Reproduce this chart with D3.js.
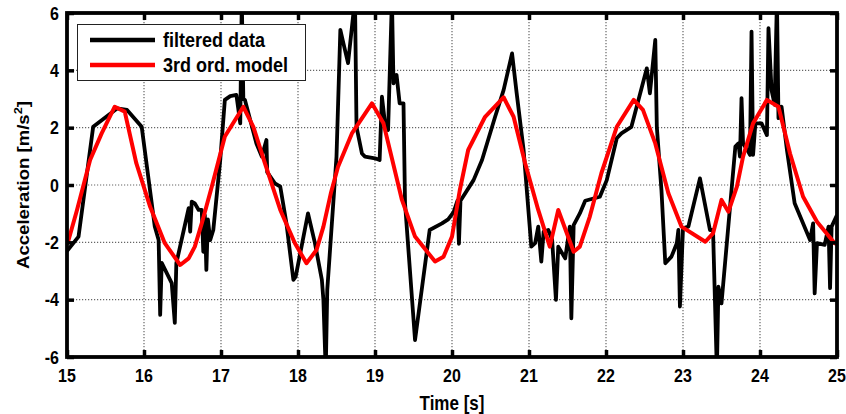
<!DOCTYPE html>
<html>
<head>
<meta charset="utf-8">
<script src="https://cdn.jsdelivr.net/npm/d3@7"></script>
<style>
  html, body { margin: 0; padding: 0; background: #fff; }
  svg { display: block; }
  text { font-family: "Liberation Sans", Arial, sans-serif; font-weight: bold; fill: #000; }
</style>
</head>
<body>
<svg id="chart" width="846" height="414"></svg>
<script>
// Measured acceleration after filtering: time [s] and acceleration [m/s^2]
const dataTime = [
  15.00, 15.15, 15.34, 15.65, 15.78, 15.97, 16.14, 16.19, 16.21, 16.23, 16.36, 16.40, 16.42,
  16.58, 16.60, 16.62, 16.66, 16.71, 16.75, 16.77, 16.79, 16.81, 16.83, 16.86, 16.90, 16.99,
  17.05, 17.12, 17.20, 17.25, 17.27, 17.29, 17.31, 17.46, 17.53, 17.59, 17.60, 17.70, 17.77,
  17.85, 17.94, 17.97, 18.13, 18.22, 18.31, 18.33, 18.36, 18.38, 18.50, 18.55, 18.59, 18.65,
  18.74, 18.76, 18.83, 18.87, 19.00, 19.06, 19.09, 19.13, 19.17, 19.22, 19.24, 19.28, 19.32,
  19.37, 19.39, 19.52, 19.71, 19.87, 19.95, 20.02, 20.07, 20.09, 20.11, 20.28, 20.39, 20.56,
  20.67, 20.78, 20.84, 20.93, 21.03, 21.08, 21.12, 21.16, 21.19, 21.25, 21.30, 21.35, 21.38,
  21.47, 21.53, 21.55, 21.58, 21.66, 21.73, 21.92, 22.01, 22.14, 22.20, 22.33, 22.53, 22.57,
  22.64, 22.66, 22.72, 22.77, 22.85, 22.92, 22.94, 22.96, 23.00, 23.07, 23.22, 23.35, 23.39,
  23.44, 23.46, 23.50, 23.68, 23.72, 23.74, 23.76, 23.78, 23.84, 23.87, 23.89, 23.91, 23.94,
  24.02, 24.09, 24.11, 24.15, 24.19, 24.22, 24.24, 24.28, 24.35, 24.45, 24.65, 24.69, 24.71,
  24.74, 24.84, 24.89, 24.91, 24.93, 25.00
];
const dataAccel = [
  -2.30, -1.80, 2.03, 2.67, 2.62, 2.03, -1.45, -1.92, -4.53, -2.72, -3.42, -4.81, -2.73,
  -0.81, -1.63, -0.58, -0.64, -0.87, -0.87, -2.33, -1.05, -2.96, -1.20, -1.92, -1.57, 0.87,
  2.97, 3.10, 3.14, 2.15, 6.50, 3.00, 2.97, 1.45, 0.99, 1.57, 0.45, 0.06, -0.06,
  -1.34, -3.31, -3.20, -0.99, -2.03, -3.31, -4.01, -6.50, -3.66, 0.99, 5.41, 4.94, 4.25,
  6.50, 2.03, 1.10, 0.99, 0.93, 0.87, 3.08, 2.15, 1.92, 6.50, 3.55, 3.84, 2.85,
  2.85, -0.64, -5.41, -1.57, -1.34, -1.20, -0.95, -0.55, -2.05, -0.55, 0.17, 0.87, 2.38,
  3.31, 4.59, 3.20, 1.22, -2.15, -2.03, -1.45, -2.67, -1.63, -1.57, -1.90, -4.01, -2.15,
  -2.56, -1.45, -4.65, -1.40, -0.99, -0.55, -0.41, 0.17, 1.63, 1.80, 2.03, 4.07, 3.20,
  5.06, 2.03, -0.17, -2.73, -2.50, -2.03, -1.57, -4.24, -1.51, -1.45, 0.23, -1.57, -1.57,
  -6.50, -3.55, -4.13, 1.34, 1.45, 0.99, 3.03, 1.45, 1.20, 1.05, 5.35, 1.05, 2.15,
  2.15, 1.74, 5.47, 3.31, 2.80, 6.50, 2.33, 2.73, 1.22, -0.64, -1.92, -1.34, -3.78,
  -2.03, -2.09, -1.45, -3.60, -1.45, -1.05
];

// Third-order model response
const modelTime = [
  15.00, 15.02, 15.13, 15.30, 15.45, 15.62, 15.75, 15.90, 16.08, 16.27, 16.47, 16.58, 16.66,
  16.75, 16.88, 17.05, 17.29, 17.42, 17.57, 17.77, 17.96, 18.11, 18.24, 18.33, 18.43, 18.52,
  18.70, 18.96, 19.11, 19.35, 19.52, 19.78, 19.89, 20.00, 20.10, 20.21, 20.43, 20.67, 20.80,
  20.95, 21.12, 21.27, 21.38, 21.58, 21.66, 21.79, 21.94, 22.14, 22.36, 22.48, 22.64, 22.81,
  22.98, 23.29, 23.39, 23.50, 23.59, 23.70, 23.78, 23.91, 24.09, 24.24, 24.39, 24.56, 24.74,
  24.97, 25.00
];
const modelAccel = [
  -2.05, -1.92, -0.87, 0.87, 1.80, 2.73, 2.56, 0.76, -0.76, -2.03, -2.79, -2.56, -2.15,
  -1.34, -0.06, 1.69, 2.73, 2.03, 0.76, -0.87, -2.03, -2.73, -2.27, -1.45, -0.25, 0.64,
  1.80, 2.85, 2.15, -0.52, -1.80, -2.67, -2.50, -1.80, -0.20, 1.22, 2.38, 3.06, 2.38,
  0.76, -0.87, -2.15, -0.87, -2.33, -2.15, -1.10, 0.41, 2.03, 2.97, 2.62, 1.45, -0.29,
  -1.45, -1.98, -1.69, -0.52, -0.93, -0.06, 0.99, 2.15, 2.97, 2.73, 1.10, -0.41, -1.28,
  -2.03, -2.05
];

const xTicks = [15, 16, 17, 18, 19, 20, 21, 22, 23, 24, 25];
const yTicks = [-6, -4, -2, 0, 2, 4, 6];
const seriesNames = ["filtered data", "3rd ord. model"];
const seriesColors = ["#000000", "#ff0000"];

const svg = d3.select("#chart");
const plot = { left: 67, right: 837, top: 13, bottom: 357 };
const textStretch = 1.16;

const x = d3.scaleLinear().domain([15, 25]).range([plot.left, plot.right]);
const y = d3.scaleLinear().domain([-6, 6]).range([plot.bottom, plot.top]);

// clip path for the data lines
svg.append("defs").append("clipPath").attr("id", "plotClip")
  .append("rect")
  .attr("x", plot.left).attr("y", plot.top)
  .attr("width", plot.right - plot.left).attr("height", plot.bottom - plot.top);

// dotted grid
const grid = svg.append("g").attr("class", "grid");
grid.selectAll("line.gx").data(xTicks.slice(1, -1)).join("line")
  .attr("x1", d => x(d)).attr("x2", d => x(d))
  .attr("y1", plot.top).attr("y2", plot.bottom)
  .attr("stroke", "#666").attr("stroke-width", 1.2).attr("stroke-dasharray", "1.2,1.8");
grid.selectAll("line.gy").data(yTicks.slice(1, -1)).join("line")
  .attr("x1", plot.left).attr("x2", plot.right)
  .attr("y1", d => y(d)).attr("y2", d => y(d))
  .attr("stroke", "#666").attr("stroke-width", 1.2).attr("stroke-dasharray", "1.2,1.8");

// data lines
const line = d3.line().x(d => x(d[0])).y(d => y(d[1]));
const lines = svg.append("g").attr("clip-path", "url(#plotClip)");
lines.append("path")
  .datum(d3.zip(dataTime, dataAccel))
  .attr("d", line)
  .attr("fill", "none").attr("stroke", seriesColors[0])
  .attr("stroke-width", 3.8).attr("stroke-linejoin", "round");
lines.append("path")
  .datum(d3.zip(modelTime, modelAccel))
  .attr("d", line)
  .attr("fill", "none").attr("stroke", seriesColors[1])
  .attr("stroke-width", 4).attr("stroke-linejoin", "round");

// axes with inward ticks
const tickLen = 7;
const axBottom = svg.append("g").attr("transform", `translate(0,${plot.bottom})`)
  .call(d3.axisBottom(x).tickValues(xTicks).tickSizeInner(-tickLen).tickSizeOuter(0).tickFormat(""));
const axTop = svg.append("g").attr("transform", `translate(0,${plot.top})`)
  .call(d3.axisTop(x).tickValues(xTicks).tickSizeInner(-tickLen).tickSizeOuter(0).tickFormat(""));
const axLeft = svg.append("g").attr("transform", `translate(${plot.left},0)`)
  .call(d3.axisLeft(y).tickValues(yTicks).tickSizeInner(-tickLen).tickSizeOuter(0).tickFormat(""));
const axRight = svg.append("g").attr("transform", `translate(${plot.right},0)`)
  .call(d3.axisRight(y).tickValues(yTicks).tickSizeInner(-tickLen).tickSizeOuter(0).tickFormat(""));
[axBottom, axTop, axLeft, axRight].forEach(a => {
  a.select(".domain").remove();
  a.selectAll(".tick line").attr("stroke", "#000").attr("stroke-width", 3.5);
});

// frame
svg.append("rect")
  .attr("x", plot.left).attr("y", plot.top)
  .attr("width", plot.right - plot.left).attr("height", plot.bottom - plot.top)
  .attr("fill", "none").attr("stroke", "#000").attr("stroke-width", 3.8);

// tick labels
svg.append("g").selectAll("text").data(xTicks).join("text")
  .attr("transform", d => `translate(${x(d)},382) scale(1,${textStretch})`)
  .attr("text-anchor", "middle").attr("font-size", 16)
  .text(d => d);
svg.append("g").selectAll("text").data(yTicks).join("text")
  .attr("transform", d => `translate(59,${y(d) + 6.5}) scale(1,${textStretch})`)
  .attr("text-anchor", "end").attr("font-size", 16)
  .text(d => d);

// axis titles
svg.append("text")
  .attr("transform", `translate(${(plot.left + plot.right) / 2},410) scale(1,${textStretch})`)
  .attr("text-anchor", "middle").attr("font-size", 17)
  .text("Time [s]");
const yTitle = svg.append("text")
  .attr("transform", `translate(29,${(plot.top + plot.bottom) / 2}) scale(1,${textStretch}) rotate(-90)`)
  .attr("text-anchor", "middle").attr("font-size", 16);
yTitle.append("tspan").text("Acceleration [m/s");
yTitle.append("tspan").attr("font-size", 11).attr("dy", -7).text("2");
yTitle.append("tspan").attr("dy", 7).text("]");

// legend
const legend = svg.append("g");
legend.append("rect")
  .attr("x", 77.5).attr("y", 24.5).attr("width", 228).attr("height", 56)
  .attr("fill", "#fff").attr("stroke", "#222").attr("stroke-width", 1);
seriesNames.forEach((name, i) => {
  const ly = 40 + i * 25;
  legend.append("line")
    .attr("x1", 90).attr("x2", 155).attr("y1", ly).attr("y2", ly)
    .attr("stroke", seriesColors[i]).attr("stroke-width", 4.5);
  legend.append("text")
    .attr("transform", `translate(163,${ly + 7}) scale(1,${textStretch})`)
    .attr("font-size", 18)
    .text(name);
});
</script>
</body>
</html>
